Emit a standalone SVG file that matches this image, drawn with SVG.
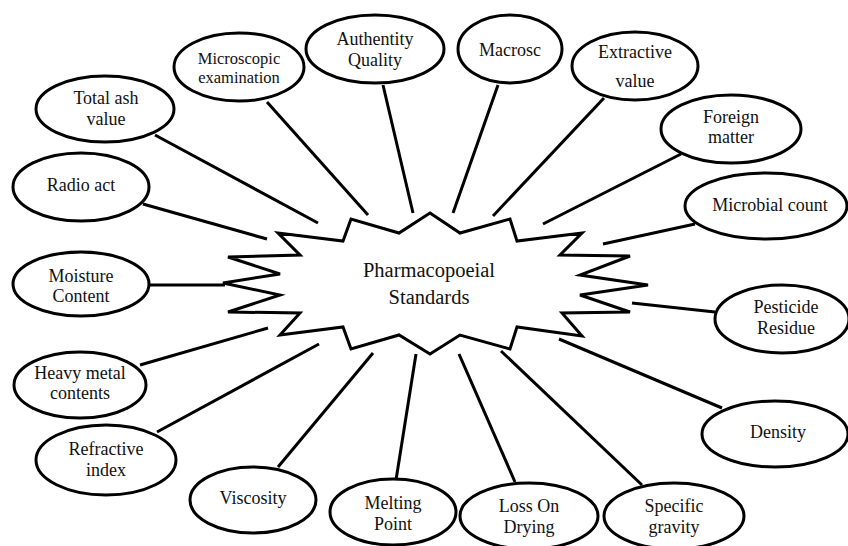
<svg xmlns="http://www.w3.org/2000/svg" width="848" height="546" viewBox="0 0 848 546">
<style>
.n ellipse{fill:#fff;stroke:#000;stroke-width:3}
text{font-family:"Liberation Serif","Times New Roman","DejaVu Serif",serif;font-size:18px;fill:#111;text-anchor:middle;dominant-baseline:central}
.sm{font-size:16.5px}
.big{font-size:20.5px}
#connectors line{stroke:#000;stroke-width:3;stroke-linecap:butt}
</style>
<rect width="848" height="546" fill="#fff"/>
<g id="connectors">
<line x1="155" y1="135" x2="318" y2="223"/>
<line x1="267" y1="102" x2="368" y2="215"/>
<line x1="383" y1="85" x2="413" y2="213"/>
<line x1="498" y1="85" x2="453" y2="213"/>
<line x1="604" y1="98" x2="493" y2="216"/>
<line x1="681" y1="154" x2="543" y2="224"/>
<line x1="695" y1="224" x2="603" y2="244"/>
<line x1="715" y1="312" x2="632" y2="303"/>
<line x1="722" y1="408" x2="559" y2="339"/>
<line x1="642" y1="485" x2="501" y2="351"/>
<line x1="515" y1="482" x2="459" y2="354"/>
<line x1="396" y1="480" x2="416" y2="354"/>
<line x1="278" y1="467" x2="373" y2="353"/>
<line x1="157" y1="432" x2="319" y2="344"/>
<line x1="140" y1="365" x2="268" y2="328"/>
<line x1="150" y1="285" x2="225" y2="285"/>
<line x1="143" y1="204" x2="267" y2="239"/>
</g>
<g id="center">
<polygon points="430,213 460,233 510,219 517,241 582,233 560,255 630,256 580,275 648,285 580,295 630,312 562,313 582,336 517,327 510,349 460,335 430,354 399,335 351,349 343,327 280,335 300,313 228,312 280,295 223,283 280,274 228,257 300,255 278,233 343,241 351,219 399,233" fill="#fff" stroke="#000" stroke-width="3" stroke-linejoin="miter"/>
<text class="big" x="429" y="270">Pharmacopoeial</text>
<text class="big" x="429" y="297">Standards</text>
</g>
<g id="total-ash" class="n"><ellipse cx="105" cy="109" rx="69" ry="33"/><text x="106" y="98">Total ash</text><text x="106" y="119">value</text></g>
<g id="microscopic" class="n"><ellipse cx="239" cy="67" rx="65" ry="34"/><text class="sm" x="239" y="58">Microscopic</text><text class="sm" x="239" y="77">examination</text></g>
<g id="authentity" class="n"><ellipse cx="375" cy="49" rx="69" ry="34"/><text x="375" y="39">Authentity</text><text x="375" y="60">Quality</text></g>
<g id="macrosc" class="n"><ellipse cx="510" cy="49" rx="52" ry="34"/><text x="510" y="50">Macrosc</text></g>
<g id="extractive" class="n"><ellipse cx="635" cy="66" rx="63" ry="34"/><text x="635" y="52">Extractive</text><text x="635" y="81">value</text></g>
<g id="foreign" class="n"><ellipse cx="731" cy="129" rx="70" ry="34"/><text x="731" y="117">Foreign</text><text x="731" y="137">matter</text></g>
<g id="microbial" class="n"><ellipse cx="766" cy="206" rx="81" ry="33"/><text x="770" y="205">Microbial count</text></g>
<g id="pesticide" class="n"><ellipse cx="782" cy="319" rx="67" ry="34"/><text x="786" y="307">Pesticide</text><text x="786" y="328">Residue</text></g>
<g id="density" class="n"><ellipse cx="775" cy="434" rx="73" ry="33"/><text x="778" y="432">Density</text></g>
<g id="specific-gravity" class="n"><ellipse cx="674" cy="516" rx="70" ry="33"/><text x="674" y="506">Specific</text><text x="674" y="527">gravity</text></g>
<g id="loss-on-drying" class="n"><ellipse cx="529" cy="516" rx="69" ry="33"/><text x="529" y="506">Loss On</text><text x="529" y="527">Drying</text></g>
<g id="melting-point" class="n"><ellipse cx="393" cy="512" rx="63" ry="33"/><text x="393" y="503">Melting</text><text x="393" y="524">Point</text></g>
<g id="viscosity" class="n"><ellipse cx="253" cy="500" rx="63" ry="33"/><text x="253" y="498">Viscosity</text></g>
<g id="refractive" class="n"><ellipse cx="106" cy="460" rx="70" ry="35"/><text x="106" y="449">Refractive</text><text x="106" y="470">index</text></g>
<g id="heavy-metal" class="n"><ellipse cx="80" cy="385" rx="66" ry="33"/><text x="80" y="373">Heavy metal</text><text x="80" y="393">contents</text></g>
<g id="moisture" class="n"><ellipse cx="81" cy="284" rx="68" ry="32"/><text x="81" y="276">Moisture</text><text x="81" y="296">Content</text></g>
<g id="radio-act" class="n"><ellipse cx="81" cy="187" rx="68" ry="34"/><text x="81" y="185">Radio act</text></g>
</svg>
